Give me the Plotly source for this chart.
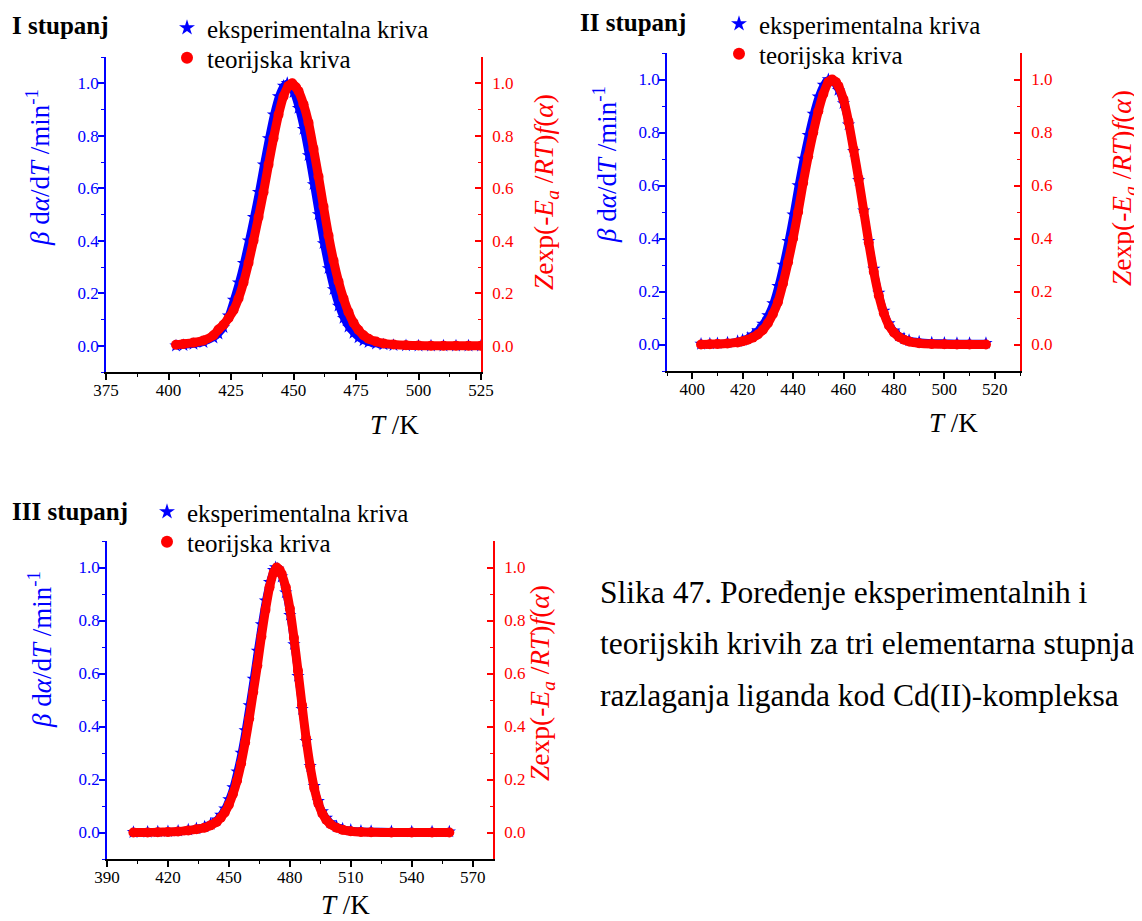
import plotly.graph_objects as go

# The page body has an 8 px margin, so the figure is drawn 8 px right/down.
OFF = 8
W, H = 1142 - OFF, 921 - OFF
FONT = "Liberation Serif"
BLUE = "#0000FF"
RED = "#FF0000"

# ---------------- data ----------------
# Panel I
T1_exp = [403, 406, 410, 414, 418, 420, 422, 424, 426, 428, 430, 432, 434, 436, 438, 440, 442, 444, 446,
          447.5, 449, 450, 452, 454, 456, 458, 460, 462, 464, 466, 468, 470, 472, 474, 476, 478, 480,
          483, 486, 490, 495, 500, 505, 510, 515, 520, 525]
V1_exp = [0.0, 0.002, 0.006, 0.013, 0.03, 0.045, 0.07, 0.115, 0.175, 0.24, 0.315, 0.40, 0.49, 0.585, 0.69,
          0.79, 0.88, 0.95, 0.99, 1.0, 0.985, 0.965, 0.905, 0.825, 0.725, 0.615, 0.50, 0.39, 0.295, 0.215,
          0.152, 0.105, 0.072, 0.048, 0.031, 0.02, 0.013, 0.007, 0.004, 0.002, 0.001, 0.0, 0.0, 0.0, 0.0, 0.0, 0.0]
T1_teo = [403, 406, 410, 414, 418, 420, 422, 424, 426, 428, 430, 432, 434, 436, 438, 440, 442, 444, 446, 448,
          449.5, 451, 452, 454, 456, 458, 460, 462, 464, 466, 468, 470, 472, 474, 476, 478, 480,
          483, 486, 490, 495, 500, 505, 510, 515, 520, 525]
V1_teo = [0.004, 0.007, 0.012, 0.02, 0.04, 0.062, 0.08, 0.105, 0.135, 0.18, 0.24, 0.315, 0.40, 0.49, 0.585,
          0.69, 0.79, 0.88, 0.95, 0.99, 1.0, 0.985, 0.97, 0.92, 0.85, 0.75, 0.645, 0.53, 0.42, 0.325, 0.245,
          0.18, 0.128, 0.088, 0.06, 0.04, 0.027, 0.016, 0.009, 0.005, 0.002, 0.001, 0.0, 0.0, 0.0, 0.0, 0.0]

# Panel II
T2_exp = [403.5, 407, 410, 414, 418, 420, 422, 424, 426, 428, 430, 432, 434, 436, 438, 440, 442, 444, 446,
          448, 450, 452, 454, 456, 458, 460, 462, 464, 466, 468, 470, 472, 474, 476, 478, 480, 482, 484, 486,
          490, 495, 500, 505, 510, 516.5]
V2_exp = [0.002, 0.003, 0.004, 0.007, 0.012, 0.017, 0.025, 0.037, 0.053, 0.078, 0.11, 0.155, 0.22, 0.30, 0.39,
          0.49, 0.60, 0.70, 0.79, 0.87, 0.935, 0.98, 1.0, 0.99, 0.96, 0.91, 0.83, 0.73, 0.62, 0.505, 0.39,
          0.285, 0.195, 0.127, 0.08, 0.052, 0.034, 0.023, 0.016, 0.01, 0.007, 0.006, 0.005, 0.005, 0.005]
T2_teo = [403.5, 407, 410, 414, 418, 420, 422, 424, 426, 428, 430, 432, 434, 436, 438, 440, 442, 444, 446,
          448, 450, 452, 454, 455.5, 457, 458, 460, 462, 464, 466, 468, 470, 472, 474, 476, 478, 480, 482,
          484, 486, 490, 495, 500, 505, 510, 516.5]
V2_teo = [0.0, 0.001, 0.002, 0.004, 0.008, 0.012, 0.018, 0.026, 0.038, 0.055, 0.08, 0.115, 0.16, 0.23, 0.31,
          0.40, 0.50, 0.61, 0.71, 0.80, 0.88, 0.945, 0.99, 1.0, 0.99, 0.975, 0.925, 0.84, 0.735, 0.625, 0.505,
          0.385, 0.275, 0.185, 0.118, 0.072, 0.045, 0.028, 0.018, 0.011, 0.005, 0.002, 0.001, 0.0, 0.0, 0.0]

# Panel III
T3_exp = [403, 410, 415, 420, 425, 430, 434, 438, 441, 444, 446, 448, 450, 452, 454, 456, 458, 460, 462, 464,
          466, 468, 470, 472, 473, 474, 476, 478, 480, 482, 484, 486, 488, 490, 492, 494, 496, 498, 500,
          503, 506, 510, 515, 520, 530, 540, 550, 558.5]
V3_exp = [0.001, 0.002, 0.003, 0.004, 0.006, 0.01, 0.015, 0.022, 0.032, 0.048, 0.066, 0.09, 0.125, 0.17, 0.23,
          0.30, 0.385, 0.48, 0.58, 0.685, 0.785, 0.875, 0.945, 0.99, 1.0, 0.995, 0.965, 0.905, 0.82, 0.71,
          0.59, 0.465, 0.345, 0.25, 0.175, 0.118, 0.08, 0.055, 0.038, 0.023, 0.014, 0.009, 0.006, 0.005,
          0.004, 0.003, 0.003, 0.003]
T3_teo = [403, 410, 415, 420, 425, 430, 434, 438, 441, 444, 446, 448, 450, 452, 454, 456, 458, 460, 462, 464,
          466, 468, 470, 472, 473.5, 475, 476, 478, 480, 482, 484, 486, 488, 490, 492, 494, 496, 498, 500,
          503, 506, 510, 515, 520, 530, 540, 550, 558.5]
V3_teo = [0.0, 0.0, 0.001, 0.002, 0.004, 0.008, 0.012, 0.018, 0.027, 0.040, 0.056, 0.076, 0.105, 0.145, 0.195,
          0.26, 0.34, 0.43, 0.53, 0.63, 0.74, 0.84, 0.925, 0.98, 1.0, 0.99, 0.975, 0.925, 0.845, 0.735, 0.61,
          0.48, 0.355, 0.25, 0.168, 0.11, 0.072, 0.047, 0.031, 0.018, 0.01, 0.005, 0.002, 0.001, 0.0, 0.0,
          0.0, 0.0]

PANEL_TITLES = ["I stupanj", "II stupanj", "III stupanj"]
X_RANGES = [[375, 525], [390, 530], [390, 580]]
X_DTICKS = [25, 20, 30]
Y_RANGE = [-0.1, 1.1]
LEGEND_EXP = "eksperimentalna kriva"
LEGEND_TEO = "teorijska kriva"
CAPTION = ["Slika 47. Poređenje eksperimentalnih i",
           "teorijskih krivih za tri elementarna stupnja",
           "razlaganja liganda kod Cd(II)-kompleksa"]
X_TITLE = "<i>T</i> /K"
Y_LEFT_TITLE = "<i>β</i> d<i>α</i>/d<i>T</i> /min<sup>-1</sup>"
Y_RIGHT_TITLE = "<i>Z</i>exp(-<i>E</i><sub><i>a</i></sub> /<i>RT</i>)<i>f</i>(<i>α</i>)"

# ---------------- layout geometry (screen pixels of the 1142x921 page) ----------------
def px(x):
    return (x - OFF) / W

def py(y):
    return 1 - (y - OFF) / H

# plot boxes: left, right, top, bottom
BOXES = [(106, 481, 57, 372), (667, 1020, 53, 371), (107, 493, 541, 859)]
TITLE_POS = [(10, 25), (578, 22), (10, 511)]
LEGEND_X = [167, 719, 147]
LEGEND_ROWS = [(28, 58), (24, 54), (512, 542)]
XT_POS = [(394, 425), (953, 423), (345, 905)]
YL_POS = [(38, 168), (605, 165), (40, 650)]
YR_POS = [(545, 192), (1124, 188), (541, 683)]

fig = go.Figure()

data = [(T1_exp, V1_exp, T1_teo, V1_teo),
        (T2_exp, V2_exp, T2_teo, V2_teo),
        (T3_exp, V3_exp, T3_teo, V3_teo)]

def legend_name(k):
    return "legend" if k == 1 else f"legend{k}"

annotations = []
for i, (te, ve, tt, vt) in enumerate(data):
    xa = "x" if i == 0 else f"x{i + 1}"
    yl = "y" if i == 0 else f"y{2 * i + 1}"
    yr = f"y{2 * i + 2}"
    leg_e = legend_name(2 * i + 1)
    leg_t = legend_name(2 * i + 2)
    # experimental (blue stars)
    fig.add_trace(go.Scatter(x=te, y=ve, xaxis=xa, yaxis=yl, mode="lines",
                             line=dict(color=BLUE, width=7, shape="spline", smoothing=0.6),
                             showlegend=False, hoverinfo="skip"))
    fig.add_trace(go.Scatter(x=te, y=ve, xaxis=xa, yaxis=yl, mode="markers", name=LEGEND_EXP,
                             marker=dict(symbol="star", color=BLUE, size=10, line=dict(width=0)),
                             legend=leg_e))
    # theoretical (red circles)
    fig.add_trace(go.Scatter(x=tt, y=vt, xaxis=xa, yaxis=yr, mode="lines",
                             line=dict(color=RED, width=9, shape="spline", smoothing=0.6),
                             showlegend=False, hoverinfo="skip"))
    fig.add_trace(go.Scatter(x=tt, y=vt, xaxis=xa, yaxis=yr, mode="markers", name=LEGEND_TEO,
                             marker=dict(symbol="circle", color=RED, size=10, line=dict(width=0)),
                             legend=leg_t))

    l, r, t, b = BOXES[i]
    xdom = [px(l), px(r)]
    ydom = [py(b), py(t)]
    xkey = "xaxis" if i == 0 else f"xaxis{i + 1}"
    ylkey = "yaxis" if i == 0 else f"yaxis{2 * i + 1}"
    yrkey = f"yaxis{2 * i + 2}"
    fig.layout[xkey] = dict(
        domain=xdom, anchor=yl, range=X_RANGES[i], dtick=X_DTICKS[i], tick0=0,
        showline=True, linecolor="black", linewidth=1.5, mirror=False,
        ticks="outside", ticklen=6, tickwidth=1.5, tickcolor="black", ticklabelstandoff=-4,
        minor=dict(dtick=X_DTICKS[i] / 2, ticks="outside", ticklen=3, tickwidth=1.2, tickcolor="black"),
        showgrid=False, zeroline=False, automargin=False,
        tickfont=dict(family=FONT, size=17, color="black"),
    )
    fig.layout[ylkey] = dict(
        domain=ydom, anchor=xa, range=Y_RANGE, dtick=0.2, tick0=0, tickformat=".1f",
        showline=True, linecolor=BLUE, linewidth=1.5,
        ticks="outside", ticklen=6, tickwidth=1.5, tickcolor=BLUE, ticklabelstandoff=-4,
        minor=dict(dtick=0.1, ticks="outside", ticklen=3, tickwidth=1.2, tickcolor=BLUE),
        showgrid=False, zeroline=False, automargin=False,
        tickfont=dict(family=FONT, size=17, color=BLUE),
    )
    fig.layout[yrkey] = dict(
        overlaying=yl, side="right", anchor=xa, range=Y_RANGE, dtick=0.2, tick0=0, tickformat=".1f",
        showline=True, linecolor=RED, linewidth=1.5,
        ticks="inside", ticklen=6, tickwidth=1.5, tickcolor=RED, ticklabelstandoff=6,
        minor=dict(dtick=0.1, ticks="inside", ticklen=3, tickwidth=1.2, tickcolor=RED),
        showgrid=False, zeroline=False, automargin=False,
        tickfont=dict(family=FONT, size=17, color=RED),
    )
    lx = LEGEND_X[i]
    for name, row in zip((leg_e, leg_t), LEGEND_ROWS[i]):
        fig.layout[name] = dict(x=px(lx), y=py(row), xanchor="left", yanchor="middle",
                                bgcolor="rgba(0,0,0,0)", borderwidth=0, itemsizing="constant",
                                font=dict(family=FONT, size=25, color="black"))

    tx, ty = TITLE_POS[i]
    annotations.append(dict(text=f"<b>{PANEL_TITLES[i]}</b>", x=px(tx), y=py(ty), xref="paper", yref="paper",
                            xanchor="left", yanchor="middle", showarrow=False,
                            font=dict(family=FONT, size=25, color="black")))
    ax_, ay_ = XT_POS[i]
    annotations.append(dict(text=X_TITLE, x=px(ax_), y=py(ay_), xref="paper", yref="paper",
                            xanchor="center", yanchor="middle", showarrow=False,
                            font=dict(family=FONT, size=27, color="black")))
    lx_, ly_ = YL_POS[i]
    annotations.append(dict(text=Y_LEFT_TITLE, x=px(lx_), y=py(ly_), xref="paper", yref="paper",
                            xanchor="center", yanchor="middle", showarrow=False, textangle=-90,
                            font=dict(family=FONT, size=27, color=BLUE)))
    rx_, ry_ = YR_POS[i]
    annotations.append(dict(text=Y_RIGHT_TITLE, x=px(rx_), y=py(ry_), xref="paper", yref="paper",
                            xanchor="center", yanchor="middle", showarrow=False, textangle=-90,
                            font=dict(family=FONT, size=27.5, color=RED)))

CAP_Y = [592, 643, 695]
for line, cy in zip(CAPTION, CAP_Y):
    annotations.append(dict(text=line, x=px(598), y=py(cy), xref="paper", yref="paper",
                            xanchor="left", yanchor="middle", showarrow=False,
                            font=dict(family=FONT, size=31.5, color="black")))

fig.update_layout(
    width=W, height=H, margin=dict(l=0, r=0, t=0, b=0, autoexpand=False),
    paper_bgcolor="white", plot_bgcolor="white",
    annotations=annotations, font=dict(family=FONT),
)

fig.write_html("out.html")
